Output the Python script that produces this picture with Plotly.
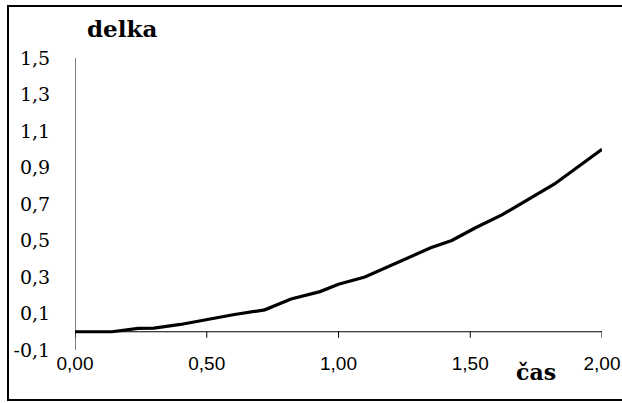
import plotly.graph_objects as go

# data
cas = [0.00, 0.14, 0.24, 0.30, 0.40, 0.50, 0.60, 0.72, 0.82, 0.93, 1.00,
       1.10, 1.26, 1.35, 1.43, 1.52, 1.62, 1.75, 1.82, 2.00]
delka = [0.000, 0.000, 0.018, 0.020, 0.040, 0.068, 0.093, 0.120, 0.180, 0.220, 0.260,
         0.300, 0.400, 0.460, 0.500, 0.570, 0.640, 0.750, 0.810, 1.000]

x_ticks = [0.0, 0.5, 1.0, 1.5, 2.0]
x_labels = ["0,00", "0,50", "1,00", "1,50", "2,00"]
y_ticks = [-0.1, 0.1, 0.3, 0.5, 0.7, 0.9, 1.1, 1.3, 1.5]
y_labels = ["-0,1", "0,1", "0,3", "0,5", "0,7", "0,9", "1,1", "1,3", "1,5"]

W, H = 622, 403
ML, MR, MT, MB = 75, 20, 58, 53
pw = W - ML - MR
ph = H - MT - MB

def px_x(p):
    return (p - ML) / pw

def px_y(p):
    return (H - MB - p) / ph

fig = go.Figure()
fig.add_trace(go.Scatter(x=cas, y=delka, mode="lines",
                         line=dict(color="black", width=3.2),
                         showlegend=False, hoverinfo="skip"))
# invisible copy on the overlaid axis carrying the y tick labels
fig.add_trace(go.Scatter(x=cas, y=delka, mode="lines", yaxis="y2",
                         line=dict(color="rgba(0,0,0,0)", width=0),
                         showlegend=False, hoverinfo="skip"))

serif = "DejaVu Serif"
sans = "Liberation Sans"
ymin, ymax = y_ticks[0], y_ticks[-1]
axis_line = dict(color="black", width=1)

# axis lines and tick marks (x axis crosses at y = 0)
shapes = [
    dict(type="line", xref="x", yref="y", x0=x_ticks[0], x1=x_ticks[-1],
         y0=0, y1=0, line=axis_line, layer="above"),
    dict(type="line", xref="x", yref="y", x0=x_ticks[0], x1=x_ticks[0],
         y0=ymin, y1=ymax, line=axis_line, layer="above"),
]
for t in x_ticks:
    shapes.append(dict(type="line", xref="x", yref="y", ysizemode="pixel",
                       yanchor=0, x0=t, x1=t, y0=0, y1=-6,
                       line=axis_line, layer="above"))
for t in y_ticks:
    shapes.append(dict(type="line", xref="x", yref="y", xsizemode="pixel",
                       xanchor=x_ticks[0], x0=-8, x1=0, y0=t, y1=t,
                       line=axis_line, layer="above"))
shapes.append(dict(type="rect", xref="paper", yref="paper",
                   x0=px_x(8), x1=px_x(700), y0=px_y(400), y1=px_y(6),
                   line=dict(color="black", width=2), fillcolor="rgba(0,0,0,0)",
                   layer="above"))

fig.update_layout(
    width=W, height=H,
    margin=dict(l=ML, r=MR, t=MT, b=MB, pad=0, autoexpand=False),
    paper_bgcolor="white", plot_bgcolor="white",
    xaxis=dict(range=[x_ticks[0], x_ticks[-1]], tickvals=x_ticks, ticktext=x_labels,
               showline=False, ticks="", showgrid=False, zeroline=False,
               tickfont=dict(family=sans, size=19, color="black")),
    yaxis=dict(range=[ymin, ymax], tickvals=y_ticks,
               showticklabels=False, showline=False, ticks="",
               showgrid=False, zeroline=False),
    yaxis2=dict(range=[ymin, ymax], overlaying="y", side="left", anchor="x",
                tickvals=y_ticks, ticktext=y_labels,
                showline=False, ticks="outside", ticklen=20,
                tickcolor="rgba(0,0,0,0)",
                showgrid=False, zeroline=False,
                tickfont=dict(family=serif, size=19, color="black")),
    annotations=[
        dict(text="<b>delka</b>", xref="paper", yref="paper",
             x=px_x(122), y=px_y(28), xanchor="center", yanchor="middle",
             showarrow=False, font=dict(family=serif, size=23, color="black")),
        dict(text="<b>čas</b>", xref="paper", yref="paper",
             x=px_x(536), y=px_y(372), xanchor="center", yanchor="middle",
             showarrow=False, font=dict(family=serif, size=22, color="black")),
    ],
    shapes=shapes,
)

fig.write_html("out.html",
               config={"displayModeBar": False},
               post_script="document.body.style.margin='0';"
                           "document.body.style.overflow='hidden';")
